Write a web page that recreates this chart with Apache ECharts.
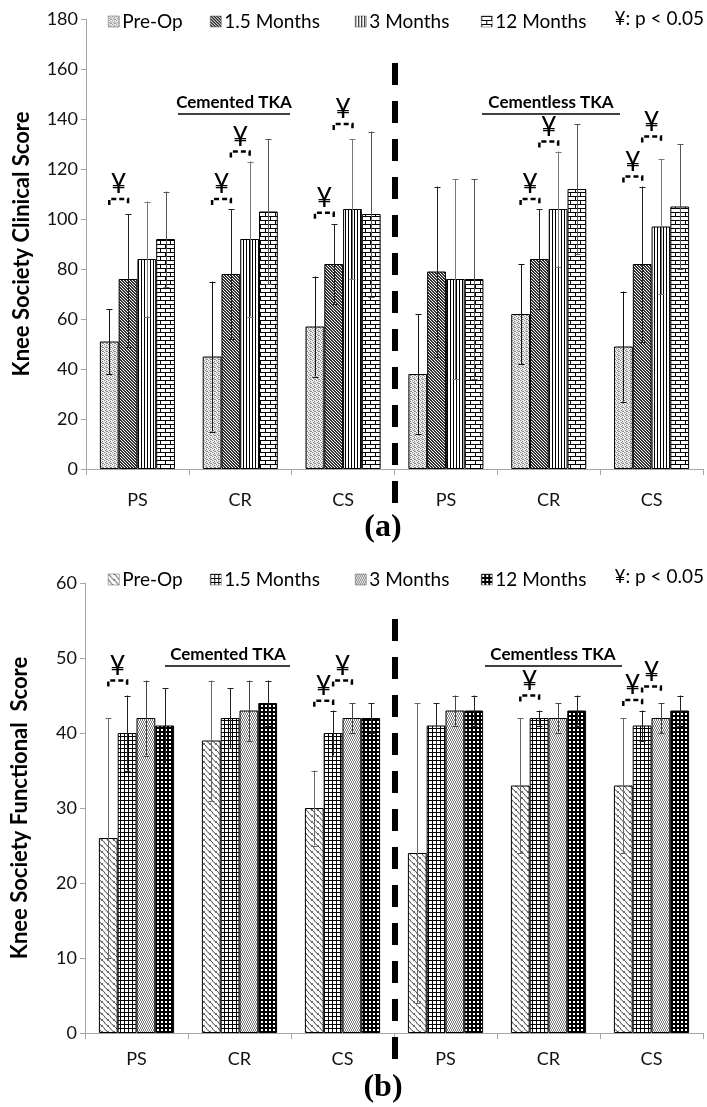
<!DOCTYPE html>
<html><head><meta charset="utf-8">
<script src="https://cdn.jsdelivr.net/npm/echarts@6/dist/echarts.min.js"></script>
<style>html,body{margin:0;padding:0;background:#fff}#c{width:707px;height:1107px}</style>
</head><body><div id="c"></div>
<script>
// ---------- data ----------
const categories = ['PS','CR','CS','PS','CR','CS'];
const seriesNames = ['Pre-Op','1.5 Months','3 Months','12 Months'];

// (a) Knee Society Clinical Score
const clinPre  = [51,45,57,38,62,49];
const clin15   = [76,78,82,79,84,82];
const clin3    = [84,92,104,76,104,97];
const clin12   = [92,103,102,76,112,105];
const clinPreLo = [38,15,37,14,42,27], clinPreHi = [64,75,77,62,82,71];
const clin15Lo  = [49,52,66,45,64,51], clin15Hi  = [102,104,98,113,104,113];
const clin3Lo   = [61,61,76,36,81,70], clin3Hi   = [107,123,132,116,127,124];
const clin12Lo  = [73,74,69,36,86,80], clin12Hi  = [111,132,135,116,138,130];
// significance brackets: [category, fromSeries, toSeries, value]
const clinSig = [[0,0,1,108],[1,0,1,108],[1,1,2,127],[2,0,1,102.5],[2,1,2,138],[4,0,1,108],[4,1,2,131],[5,0,1,117],[5,1,2,133]];

// (b) Knee Society Functional Score
const funcPre  = [26,39,30,24,33,33];
const func15   = [40,42,40,41,42,41];
const func3    = [42,43,42,43,42,42];
const func12   = [41,44,42,43,43,43];
const funcPreLo = [10,31,25,4,24,24], funcPreHi = [42,47,35,44,42,42];
const func15Lo  = [35,38,37,38,41,39], func15Hi  = [45,46,43,44,43,43];
const func3Lo   = [37,39,40,41,40,40], func3Hi   = [47,47,44,45,44,44];
const func12Lo  = [36,41,40,41,41,41], func12Hi  = [46,47,44,45,45,45];
const funcSig = [[0,0,1,47],[2,0,1,44.3],[2,1,2,47],[4,0,1,45],[5,0,1,44.4],[5,1,2,46.2]];

const clinTicks = {min:0,max:180,interval:20};
const funcTicks = {min:0,max:60,interval:10};

// ---------- patterns ----------
function tile(w,h,fn){const c=document.createElement('canvas');c.width=w;c.height=h;const g=c.getContext('2d');g.fillStyle='#fff';g.fillRect(0,0,w,h);fn(g);return {image:c,repeat:'repeat'};}
function px(g,col,pts){g.fillStyle=col;pts.forEach(p=>g.fillRect(p[0],p[1],1,1));}
const patA = [
  tile(4,4,g=>{g.fillStyle='#e2e2e2';g.fillRect(0,0,4,4);px(g,'#8a8a8a',[[0,0],[2,1],[1,2],[3,3],[2,3]]);px(g,'#fff',[[3,0],[1,1],[0,3]]);}),
  tile(3,3,g=>{for(let i=0;i<3;i++){px(g,'#333',[[i,i],[(i+1)%3,i]]);}}),
  tile(3,1,g=>{px(g,'#000',[[0,0]]);}),
  tile(10,8,g=>{g.fillStyle='#000';g.fillRect(0,0,10,1);g.fillRect(0,4,10,1);g.fillRect(0,0,1,4);g.fillRect(5,4,1,4);})
];
const patB = [
  tile(6,6,g=>{g.strokeStyle='#333';g.lineWidth=1;
     for(const o of [-6,0,6]){g.beginPath();g.moveTo(o-1,0);g.bezierCurveTo(o+3,0.5,o+2,5,o+7,6);g.stroke();}}),
  tile(4,4,g=>{g.fillStyle='#000';g.fillRect(0,0,4,1);g.fillRect(0,0,1,4);}),
  tile(4,4,g=>{px(g,'#7a7a7a',[[0,0],[1,1],[2,0],[3,1],[0,3],[1,2],[2,3],[3,2]]);}),
  tile(4,4,g=>{g.fillStyle='#000';g.fillRect(0,0,4,4);g.fillStyle='#fff';g.fillRect(1,1,2,2);})
];

const GAP = 0.27;
const FONT = 'Lato';

function barOffset(api, si){const band=api.size([1,0])[0];const bw=band*(1-GAP)/4;return (si-1.5)*bw;}
function errData(los,his){const d=[];los.forEach((lo,si)=>lo.forEach((v,c)=>d.push([c,si,v,his[si][c]])));return d;}

function makeSeries(gi, vals, los, his, sig, pats, errColors){
  const s=[];
  vals.forEach((v,i)=>s.push({type:'bar',name:seriesNames[i],xAxisIndex:gi,yAxisIndex:gi,data:v,
    barGap:'0%',barCategoryGap:(GAP*100)+'%',itemStyle:{color:pats[i],borderColor:'#000',borderWidth:1},silent:true}));
  s.push({type:'custom',xAxisIndex:gi,yAxisIndex:gi,data:errData(los,his),encode:{x:0,y:[2,3]},z:5,silent:true,clip:false,
    renderItem:(p,api)=>{const c=api.value(0),si=api.value(1);const a=api.coord([c,api.value(2)]);const b=api.coord([c,api.value(3)]);
      const x=Math.round(a[0]+barOffset(api,si))+0.5;const col=errColors[si];const st={stroke:col,lineWidth:1};
      return {type:'group',children:[
        {type:'line',shape:{x1:x,y1:a[1],x2:x,y2:b[1]},style:st},
        {type:'line',shape:{x1:x-3,y1:Math.round(a[1])+0.5,x2:x+3,y2:Math.round(a[1])+0.5},style:st},
        {type:'line',shape:{x1:x-3,y1:Math.round(b[1])+0.5,x2:x+3,y2:Math.round(b[1])+0.5},style:st}]};}});
  s.push({type:'custom',xAxisIndex:gi,yAxisIndex:gi,data:sig,encode:{x:0,y:3},z:6,silent:true,clip:false,
    renderItem:(p,api)=>{const c=api.value(0);const pt=api.coord([c,api.value(3)]);
      const x1=pt[0]+barOffset(api,api.value(1)), x2=pt[0]+barOffset(api,api.value(2)); const y=pt[1];
      return {type:'group',children:[
        {type:'polyline',shape:{points:[[x1,y+6],[x1,y],[x2,y],[x2,y+6]]},style:{stroke:'#000',lineWidth:2.5,fill:null,lineDash:[5,3]}},
        {type:'text',style:{x:(x1+x2)/2,y:y-1,text:'¥',fontSize:27,fontFamily:FONT,fill:'#000',align:'center',verticalAlign:'bottom'}}]};}});
  return s;
}

const legendLefts = [103,205,350,476];
function legendsFor(top, pats){
  return seriesNames.map((n,i)=>({top:top,left:legendLefts[i],itemWidth:11,itemHeight:11,itemGap:10,icon:'rect',selectedMode:false,
    textStyle:{fontSize:19,fontFamily:FONT,color:'#000',padding:[0,0,0,-2]},
    data:[{name:n,itemStyle:{color:pats[i],borderColor:'#555',borderWidth:0.5}}]}));
}

function xAx(gi, margin){return {type:'category',gridIndex:gi,data:categories,
  axisLine:{lineStyle:{color:'#a6a6a6'}},axisTick:{show:true,length:6,lineStyle:{color:'#a6a6a6'}},
  axisLabel:{fontSize:18,fontFamily:FONT,color:'#111',margin:margin}};}
function yAx(gi, t, name, gap){return {type:'value',gridIndex:gi,min:t.min,max:t.max,interval:t.interval,
  name:name,nameLocation:'middle',nameGap:gap,nameTextStyle:{fontSize:22,fontWeight:'bold',fontFamily:FONT,color:'#000'},
  splitLine:{show:false},axisLine:{show:true,lineStyle:{color:'#a6a6a6'}},axisTick:{show:true,length:5,lineStyle:{color:'#a6a6a6'}},
  axisLabel:{fontSize:18,fontFamily:FONT,color:'#111',margin:8}};}

function txt(x,y,t,size,extra){return Object.assign({type:'text',x:x,y:y,style:Object.assign({text:t,fontSize:size,fontFamily:FONT,fill:'#000',verticalAlign:'middle'},extra||{})});}

const chart = echarts.init(document.getElementById('c'),null,{renderer:'canvas'});
const opt = {
  animation:false,backgroundColor:'#fff',
  grid:[{left:86,top:19,width:617,height:450},{left:85,top:583,width:618,height:450}],
  xAxis:[xAx(0,22),xAx(1,17)],
  yAxis:[yAx(0,clinTicks,'Knee Society Clinical Score',53),yAx(1,funcTicks,'Knee Society Functional  Score',54)],
  legend:[].concat(legendsFor(7,patA),legendsFor(565,patB)),
  series:[].concat(
    makeSeries(0,[clinPre,clin15,clin3,clin12],[clinPreLo,clin15Lo,clin3Lo,clin12Lo],[clinPreHi,clin15Hi,clin3Hi,clin12Hi],clinSig,patA,['#111','#222','#777','#555']),
    makeSeries(1,[funcPre,func15,func3,func12],[funcPreLo,func15Lo,func3Lo,func12Lo],[funcPreHi,func15Hi,func3Hi,func12Hi],funcSig,patB,['#666','#222','#444','#222'])
  ),
  graphic:[
    txt(704,19,'¥: p < 0.05',19,{align:'right'}),
    txt(704,577,'¥: p < 0.05',19,{align:'right'}),
    txt(234,103,'Cemented TKA',17,{fontWeight:'bold',align:'center'}),
    {type:'line',shape:{x1:178,y1:114,x2:290,y2:114},style:{stroke:'#000',lineWidth:1.5}},
    txt(551,103,'Cementless TKA',17,{fontWeight:'bold',align:'center'}),
    {type:'line',shape:{x1:482,y1:114,x2:620,y2:114},style:{stroke:'#000',lineWidth:1.5}},
    txt(228,655,'Cemented TKA',17,{fontWeight:'bold',align:'center'}),
    {type:'line',shape:{x1:165,y1:666,x2:290,y2:666},style:{stroke:'#000',lineWidth:1.5}},
    txt(553,655,'Cementless TKA',17,{fontWeight:'bold',align:'center'}),
    {type:'line',shape:{x1:485,y1:666,x2:622,y2:666},style:{stroke:'#000',lineWidth:1.5}},
    {type:'line',z:10,shape:{x1:395,y1:63,x2:395,y2:505},style:{stroke:'#000',lineWidth:6,lineDash:[22,16]}},
    {type:'line',z:10,shape:{x1:395,y1:619,x2:395,y2:1064},style:{stroke:'#000',lineWidth:6,lineDash:[22,16]}},
    txt(383,528,'(a)',32,{fontWeight:'bold',fontFamily:'Liberation Serif',align:'center'}),
    txt(383,1088,'(b)',32,{fontWeight:'bold',fontFamily:'Liberation Serif',align:'center'})
  ]
};
chart.setOption(opt);
</script></body></html>
